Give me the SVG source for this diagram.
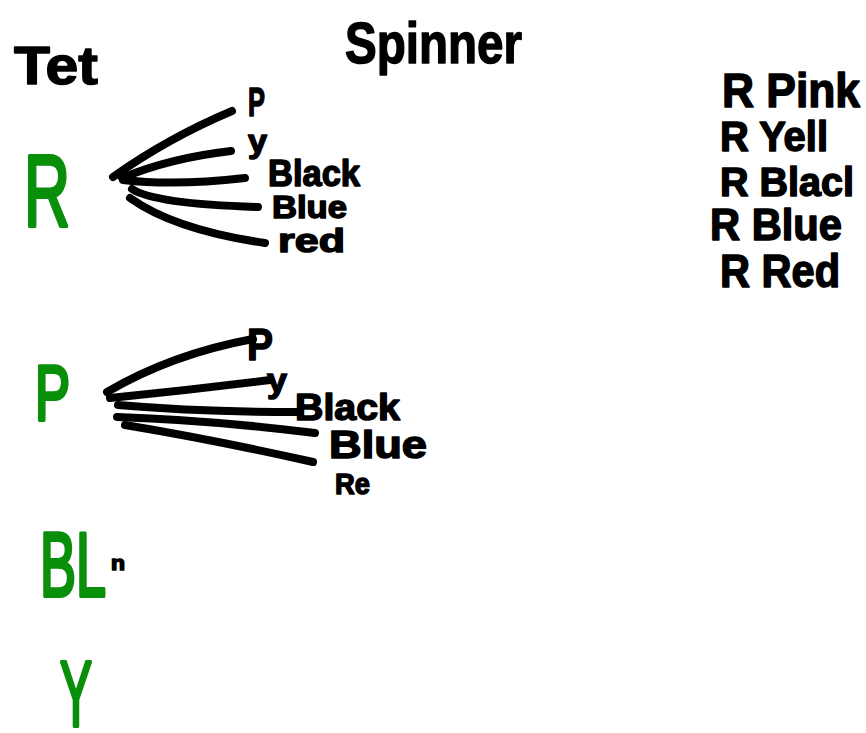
<svg xmlns="http://www.w3.org/2000/svg" width="866" height="733" viewBox="0 0 866 733">
<style>
.t{font-family:"Liberation Sans","DejaVu Sans",sans-serif;font-weight:bold;fill:#000;stroke:#000;stroke-width:1.5;stroke-linejoin:round}
.g{font-family:"Liberation Sans","DejaVu Sans",sans-serif;fill:#0a8f0a;stroke:#0a8f0a;stroke-width:4;stroke-linejoin:round}
.c{fill:none;stroke:#000;stroke-width:8;stroke-linecap:round}
</style>
<rect width="866" height="733" fill="#fff"/>
<g id="title-tet"><text class="t" x="14" y="84" font-size="54" textLength="84" lengthAdjust="spacingAndGlyphs">Tet</text></g>
<g id="title-spinner"><text class="t" x="345" y="63" font-size="58" textLength="177" lengthAdjust="spacingAndGlyphs">Spinner</text></g>
<g id="node-R"><text class="g" x="24" y="226" font-size="102" textLength="46" lengthAdjust="spacingAndGlyphs">R</text></g>
<g id="node-P"><text class="g" x="35" y="420" font-size="78" textLength="35" lengthAdjust="spacingAndGlyphs">P</text></g>
<g id="node-BL"><text class="g" x="40" y="596" font-size="90" textLength="66" lengthAdjust="spacingAndGlyphs">BL</text><text class="t" x="111" y="570" font-size="20" textLength="14" lengthAdjust="spacingAndGlyphs">n</text></g>
<g id="node-Y"><text class="g" x="60" y="726" font-size="92" textLength="32" lengthAdjust="spacingAndGlyphs">Y</text></g>
<g id="connectors">
<path class="c" d="M113,177 Q168,138 232,111"/>
<path class="c" d="M122,178 Q170,158 231,151"/>
<path class="c" d="M123,180 Q175,186 245,178"/>
<path class="c" d="M132,189 Q155,204 258,207"/>
<path class="c" d="M130,198 Q175,230 265,243"/>
<path class="c" d="M107,392 Q172,354 253,339"/>
<path class="c" d="M110,398 Q190,390 270,380"/>
<path class="c" d="M118,405 Q200,412 298,412"/>
<path class="c" d="M117,417 Q210,420 315,433"/>
<path class="c" d="M125,425 Q215,440 313,462"/>
</g>
<g id="labels-R">
<text class="t" x="248" y="116" font-size="40" textLength="17" lengthAdjust="spacingAndGlyphs">P</text>
<text class="t" x="248" y="152" font-size="32" textLength="19" lengthAdjust="spacingAndGlyphs">y</text>
<text class="t" x="268" y="186" font-size="36" textLength="92" lengthAdjust="spacingAndGlyphs">Black</text>
<text class="t" x="272" y="218" font-size="32" textLength="75" lengthAdjust="spacingAndGlyphs">Blue</text>
<text class="t" x="278" y="252" font-size="34" textLength="67" lengthAdjust="spacingAndGlyphs">red</text>
</g>
<g id="labels-P">
<text class="t" x="247" y="360" font-size="44" textLength="26" lengthAdjust="spacingAndGlyphs">P</text>
<text class="t" x="267" y="392" font-size="34" textLength="20" lengthAdjust="spacingAndGlyphs">y</text>
<text class="t" x="295" y="420" font-size="36" textLength="105" lengthAdjust="spacingAndGlyphs">Black</text>
<text class="t" x="329" y="458" font-size="38" textLength="98" lengthAdjust="spacingAndGlyphs">Blue</text>
<text class="t" x="335" y="494" font-size="30" textLength="35" lengthAdjust="spacingAndGlyphs">Re</text>
</g>
<g id="list">
<text class="t" x="722" y="107" font-size="48" textLength="138" lengthAdjust="spacingAndGlyphs">R Pink</text>
<text class="t" x="720" y="151" font-size="42" textLength="108" lengthAdjust="spacingAndGlyphs">R Yell</text>
<text class="t" x="720" y="196" font-size="40" textLength="134" lengthAdjust="spacingAndGlyphs">R Blacl</text>
<text class="t" x="710" y="240" font-size="44" textLength="132" lengthAdjust="spacingAndGlyphs">R Blue</text>
<text class="t" x="720" y="287" font-size="46" textLength="120" lengthAdjust="spacingAndGlyphs">R Red</text>
</g>
</svg>
